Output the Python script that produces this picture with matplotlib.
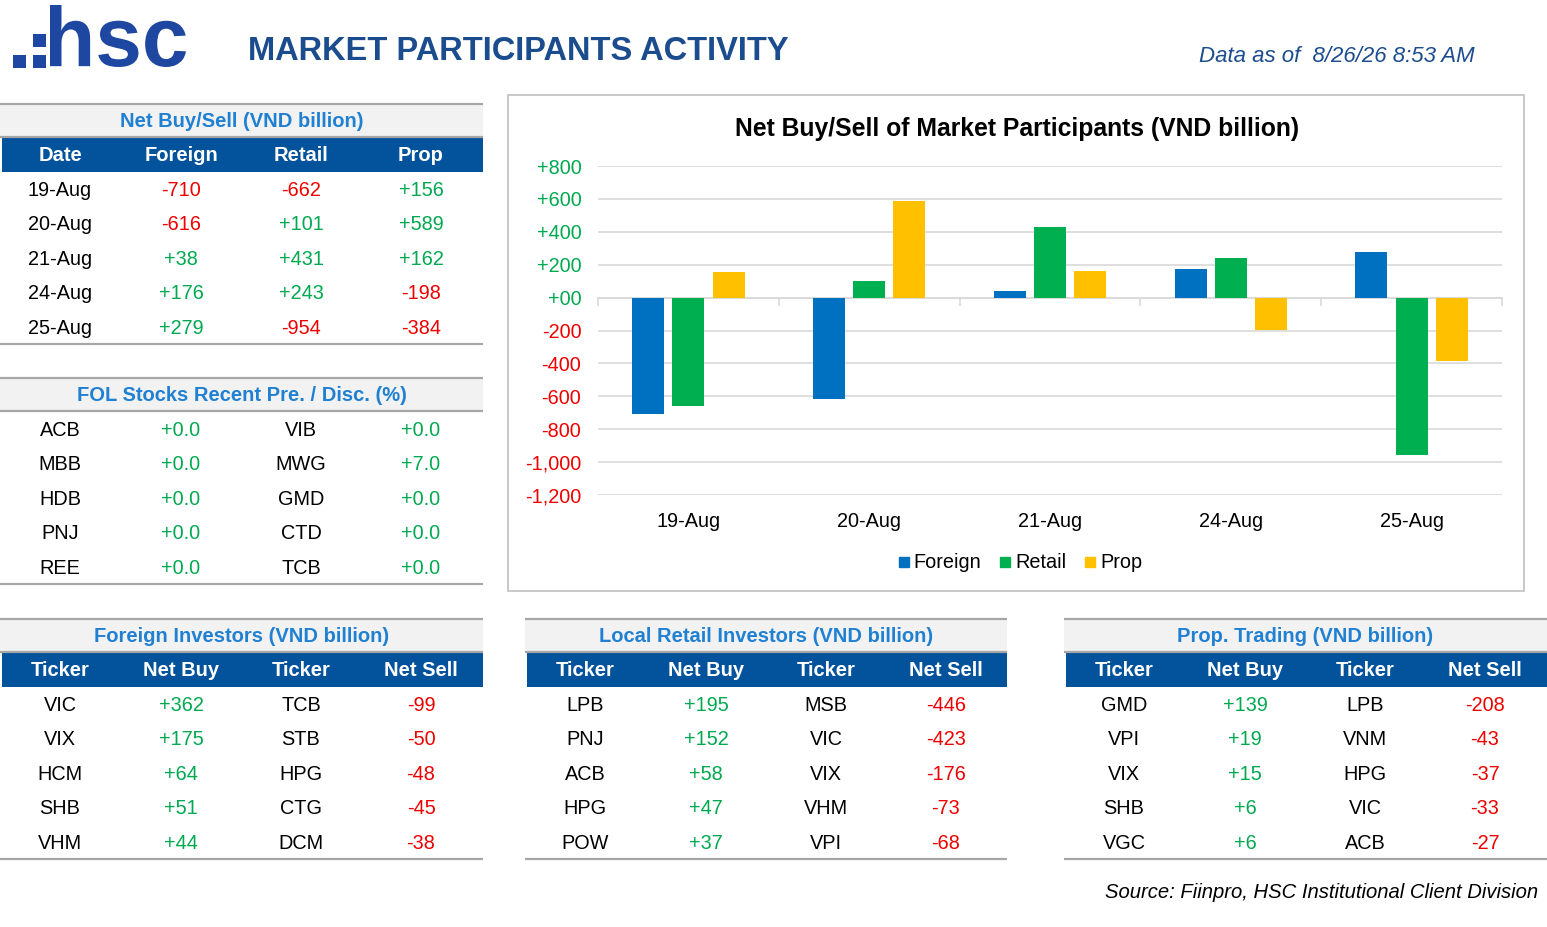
import matplotlib
matplotlib.use("Agg")
import matplotlib.pyplot as plt
from matplotlib.patches import Rectangle, PathPatch
from matplotlib.textpath import TextPath
from matplotlib.font_manager import FontProperties
from matplotlib.lines import Line2D
import matplotlib.transforms as mtransforms

plt.rcParams['font.family'] = ['Liberation Sans', 'DejaVu Sans']

# ---- data ----
dates = ["19-Aug", "20-Aug", "21-Aug", "24-Aug", "25-Aug"]
foreign = [-710, -616, 38, 176, 279]
retail = [-662, 101, 431, 243, -954]
prop = [156, 589, 162, -198, -384]

fol_left = ["ACB", "MBB", "HDB", "PNJ", "REE"]
fol_left_val = [0.0, 0.0, 0.0, 0.0, 0.0]
fol_right = ["VIB", "MWG", "GMD", "CTD", "TCB"]
fol_right_val = [0.0, 7.0, 0.0, 0.0, 0.0]

frg_buy = ["VIC", "VIX", "HCM", "SHB", "VHM"]
frg_buy_val = [362, 175, 64, 51, 44]
frg_sell = ["TCB", "STB", "HPG", "CTG", "DCM"]
frg_sell_val = [-99, -50, -48, -45, -38]

ret_buy = ["LPB", "PNJ", "ACB", "HPG", "POW"]
ret_buy_val = [195, 152, 58, 47, 37]
ret_sell = ["MSB", "VIC", "VIX", "VHM", "VPI"]
ret_sell_val = [-446, -423, -176, -73, -68]

prp_buy = ["GMD", "VPI", "VIX", "SHB", "VGC"]
prp_buy_val = [139, 19, 15, 6, 6]
prp_sell = ["LPB", "VNM", "HPG", "VIC", "ACB"]
prp_sell_val = [-208, -43, -37, -33, -27]

# ---- styles ----
NAVY = "#1B4C8E"
LOGO = "#1D47A0"
BAND_BLUE = "#03529C"
TITLE_BLUE = "#2080D2"
BAND_GREY = "#F2F2F2"
LINE = "#A6A6A6"
GREEN = "#00A94F"
RED = "#EE0000"
C_FRG, C_RET, C_PRP = "#0070C0", "#00B050", "#FFC000"

W, H = 1547, 927
fig = plt.figure(figsize=(W / 100, H / 100), dpi=100)
bg = fig.add_axes([0, 0, 1, 1], zorder=0)
bg.set_xlim(0, W)
bg.set_ylim(H, 0)
bg.axis("off")

# ---- logo ----
for (x, y) in [(13, 55), (33, 55), (33, 34)]:
    bg.add_patch(Rectangle((x, y), 12.5, 12.5, fc=LOGO, ec="none"))
tp = TextPath((0, 0), "hsc", size=100,
              prop=FontProperties(family="Liberation Sans", weight="bold"))
ext = tp.get_extents()
sx = (186 - 50) / ext.width
sy = (67 - 5) / ext.height
tr = mtransforms.Affine2D().translate(-ext.x0, -ext.y0).scale(sx, -sy).translate(50, 67)
bg.add_patch(PathPatch(tr.transform_path(tp), fc=LOGO, ec="none"))

bg.text(248, 51, "MARKET PARTICIPANTS ACTIVITY", fontsize=23.5, fontweight="bold",
        color=NAVY, ha="left", va="center")
bg.text(1475, 56, "Data as of  8/26/26 8:53 AM", fontsize=16, style="italic",
        color=NAVY, ha="right", va="center")
bg.text(1538, 892, "Source: Fiinpro, HSC Institutional Client Division", fontsize=14.6,
        style="italic", color="black", ha="right", va="center")

COL_OFF = [60, 181, 301, 421]
PITCH = 34.4


def fmt(v, dec=0):
    return f"{v:+,.{dec}f}"


def draw_table(x0, x1, top, title, headers, cols, dec=0):
    bg.add_patch(Rectangle((x0, top), x1 - x0, 33, fc=BAND_GREY, ec="none"))
    bg.plot([x0, x1], [top, top], color=LINE, lw=1.6, solid_capstyle="butt")
    bg.plot([x0, x1], [top + 33, top + 33], color=LINE, lw=1.6, solid_capstyle="butt")
    bg.text((x0 + x1) / 2, top + 17.5, title, fontsize=14.5, fontweight="bold",
            color=TITLE_BLUE, ha="center", va="center")
    y = top + 34
    if headers:
        bg.add_patch(Rectangle((x0 + 2, y), x1 - x0 - 2, 34, fc=BAND_BLUE, ec="none"))
        for off, h in zip(COL_OFF, headers):
            bg.text(x0 + off, y + 17.5, h, fontsize=14.5, fontweight="bold",
                    color="white", ha="center", va="center")
        y += 34
    for i in range(5):
        yc = y + 18.5 + i * PITCH
        for off, (kind, col) in zip(COL_OFF, cols):
            if kind == "txt":
                bg.text(x0 + off, yc, col[i], fontsize=14.3, color="black",
                        ha="center", va="center")
            else:
                v = col[i]
                bg.text(x0 + off, yc, fmt(v, dec), fontsize=14.3,
                        color=GREEN if v >= 0 else RED, ha="center", va="center")
    yb = y + 5 * PITCH
    bg.plot([x0, x1], [yb, yb], color=LINE, lw=1.6, solid_capstyle="butt")


draw_table(0, 483, 104, "Net Buy/Sell (VND billion)", ["Date", "Foreign", "Retail", "Prop"],
           [("txt", dates), ("num", foreign), ("num", retail), ("num", prop)])
draw_table(0, 483, 378, "FOL Stocks Recent Pre. / Disc. (%)", None,
           [("txt", fol_left), ("num", fol_left_val), ("txt", fol_right), ("num", fol_right_val)],
           dec=1)
hdr = ["Ticker", "Net Buy", "Ticker", "Net Sell"]
draw_table(0, 483, 619, "Foreign Investors (VND billion)", hdr,
           [("txt", frg_buy), ("num", frg_buy_val), ("txt", frg_sell), ("num", frg_sell_val)])
draw_table(525, 1007, 619, "Local Retail Investors (VND billion)", hdr,
           [("txt", ret_buy), ("num", ret_buy_val), ("txt", ret_sell), ("num", ret_sell_val)])
draw_table(1064, 1547, 619, "Prop. Trading (VND billion)", hdr,
           [("txt", prp_buy), ("num", prp_buy_val), ("txt", prp_sell), ("num", prp_sell_val)])

# ---- chart ----
bg.add_patch(Rectangle((508, 95), 1016, 496, fc="white", ec="#BFBFBF", lw=1.2))
bg.text(1017, 129, "Net Buy/Sell of Market Participants (VND billion)", fontsize=17.8,
        fontweight="bold", color="black", ha="center", va="center")

ax = fig.add_axes([598 / W, 1 - 495 / H, 904 / W, 329 / H], zorder=2)
ax.patch.set_alpha(0)
x = list(range(len(dates)))
bw = 0.177
ax.bar([i - 0.222 for i in x], foreign, bw, color=C_FRG, zorder=3)
ax.bar(x, retail, bw, color=C_RET, zorder=3)
ax.bar([i + 0.222 for i in x], prop, bw, color=C_PRP, zorder=3)
ax.set_xlim(-0.5, 4.5)
ax.set_ylim(-1200, 800)
yt = list(range(-1200, 801, 200))
ax.set_yticks(yt)
ax.set_yticklabels(["+00" if v == 0 else f"{v:+,d}" for v in yt], fontsize=14.3)
for lab, v in zip(ax.get_yticklabels(), yt):
    lab.set_color(GREEN if v >= 0 else RED)
ax.tick_params(axis="y", length=0, pad=12)
ax.grid(axis="y", color="#D9D9D9", lw=1.2, zorder=0)
for s in ax.spines.values():
    s.set_visible(False)
ax.spines["bottom"].set_visible(True)
ax.spines["bottom"].set_position(("data", 0))
ax.spines["bottom"].set_color("#D9D9D9")
ax.spines["bottom"].set_linewidth(1.2)
ax.set_xticks([i - 0.5 for i in range(len(dates) + 1)])
ax.set_xticklabels([])
ax.tick_params(axis="x", length=6, color="#D9D9D9", width=1.2, direction="out")
trans = ax.get_xaxis_transform()
for i, d in enumerate(dates):
    ax.text(i, -0.08, d, transform=trans, fontsize=14.3, ha="center", va="center")

handles = [Line2D([], [], marker="s", ls="none", ms=7, color=c) for c in (C_FRG, C_RET, C_PRP)]
fig.legend(handles, ["Foreign", "Retail", "Prop"], loc="center", ncol=3, frameon=False,
           bbox_to_anchor=(1020 / W, 1 - 563 / H), fontsize=14.3, handlelength=0.6,
           handletextpad=0.2, columnspacing=0.9)

fig.savefig("out.png", dpi=100)
